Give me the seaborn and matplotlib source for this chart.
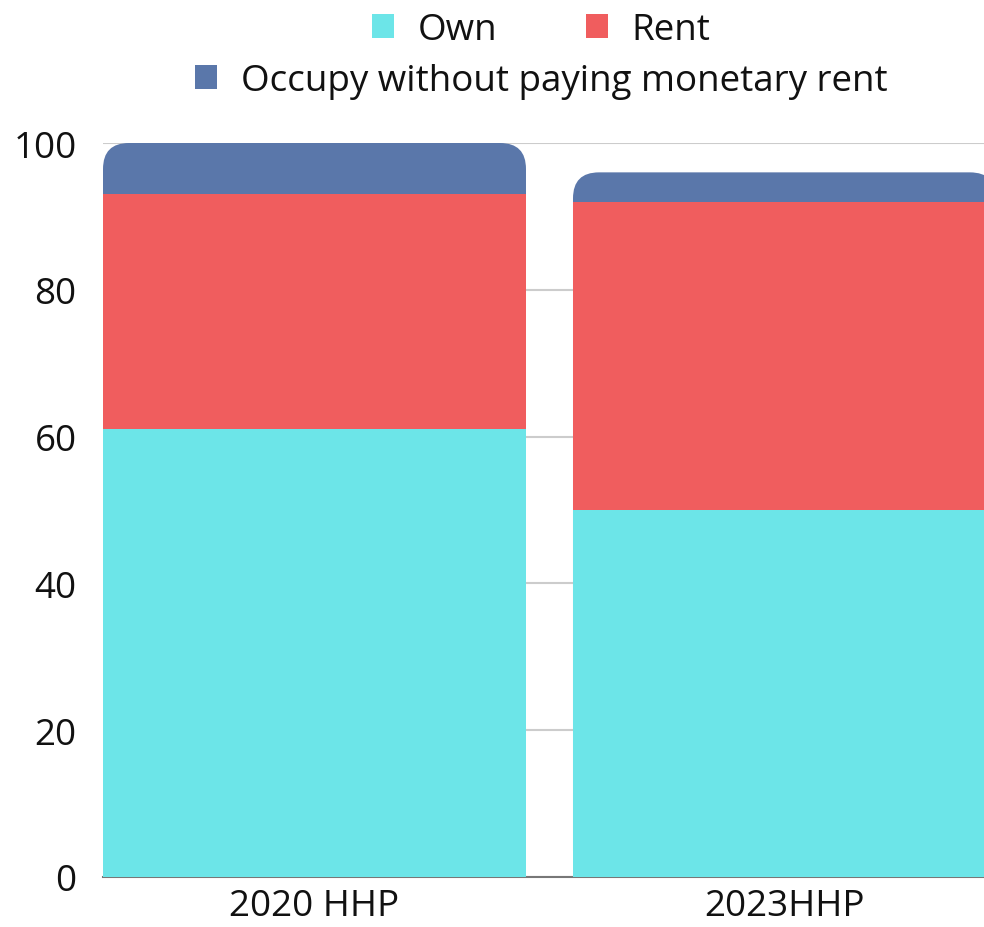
import numpy as np
import matplotlib
matplotlib.use('Agg')
import matplotlib.pyplot as plt
import seaborn as sns
import pandas as pd
from matplotlib.patches import FancyBboxPatch, Patch

categories = ['2020 HHP', '2023HHP']
own = [61, 50]
rent = [32, 42]
occupy = [7, 4]
series_names = ['Own', 'Rent', 'Occupy without paying monetary rent']
colors = ['#6CE5E8', '#F05D5E', '#5A77AA']
y_ticks = [0, 20, 40, 60, 80, 100]

sns.set_theme(style='white')
plt.rcParams['font.family'] = ['Open Sans', 'DejaVu Sans']

df = pd.DataFrame({'cat': categories, 'own': own, 'rent': rent, 'occupy': occupy})
df['own_rent'] = df['own'] + df['rent']
df['total'] = df['own_rent'] + df['occupy']

fig = plt.figure(figsize=(9.84, 9.28), dpi=100)
ax = fig.add_axes([103 / 984, 1 - 878 / 928, 1 - 103 / 984, (878 - 144) / 928])

# stacked by overlaying cumulative totals
bar_kw = dict(width=0.9, saturation=1, ax=ax, linewidth=0, edgecolor='none')
sns.barplot(data=df, x='cat', y='total', color=colors[2], zorder=2, **bar_kw)
sns.barplot(data=df, x='cat', y='own_rent', color=colors[1], zorder=3, **bar_kw)
sns.barplot(data=df, x='cat', y='own', color=colors[0], zorder=4, **bar_kw)

ax.set_xlim(-0.45, 1.4245)
ax.set_ylim(0, 100)

# round the top corners of the total bars
total_patches = list(ax.patches[:len(categories)])
x_px = ax.get_window_extent().width / (ax.get_xlim()[1] - ax.get_xlim()[0])
y_px = ax.get_window_extent().height / (ax.get_ylim()[1] - ax.get_ylim()[0])
r_px = 26
for p in total_patches:
    x0, y0 = p.get_x(), p.get_y()
    w, h = p.get_width(), p.get_height()
    rp = FancyBboxPatch((x0, y0), w, h,
                        boxstyle=f'round,pad=0,rounding_size={r_px / x_px}',
                        mutation_aspect=x_px / y_px,
                        facecolor=p.get_facecolor(), edgecolor='none', linewidth=0, zorder=2)
    p.remove()
    ax.add_patch(rp)

ax.set_yticks(y_ticks)
ax.yaxis.grid(True, color='#CCCCCC', linewidth=1.5, zorder=0)
ax.set_axisbelow(True)
ax.xaxis.grid(False)
for s in ['top', 'right', 'left']:
    ax.spines[s].set_visible(False)
ax.spines['bottom'].set_color('#777777')
ax.spines['bottom'].set_linewidth(1.5)
ax.spines['bottom'].set_zorder(1)
ax.set_xlabel('')
ax.set_ylabel('')
ax.tick_params(axis='y', length=0, pad=19, labelsize=26.5, labelcolor='#111111')
ax.tick_params(axis='x', length=0, pad=8, labelsize=26.5, labelcolor='#111111')

handles = [Patch(facecolor=c, edgecolor='none') for c in colors]
leg_kw = dict(frameon=False, fontsize=26.5, handlelength=0.6, handleheight=0.6,
              handletextpad=0.65, columnspacing=2.4, borderaxespad=0, borderpad=0)
leg1 = fig.legend(handles[:2], series_names[:2], ncol=2, loc='center',
                  bbox_to_anchor=(541 / 984, 1 - 31 / 928), **leg_kw)
leg2 = fig.legend(handles[2:], series_names[2:], ncol=1, loc='center',
                  bbox_to_anchor=(541 / 984, 1 - 82 / 928), **leg_kw)
for leg in (leg1, leg2):
    for t in leg.get_texts():
        t.set_color('#111111')

fig.savefig('out.png', dpi=100)
